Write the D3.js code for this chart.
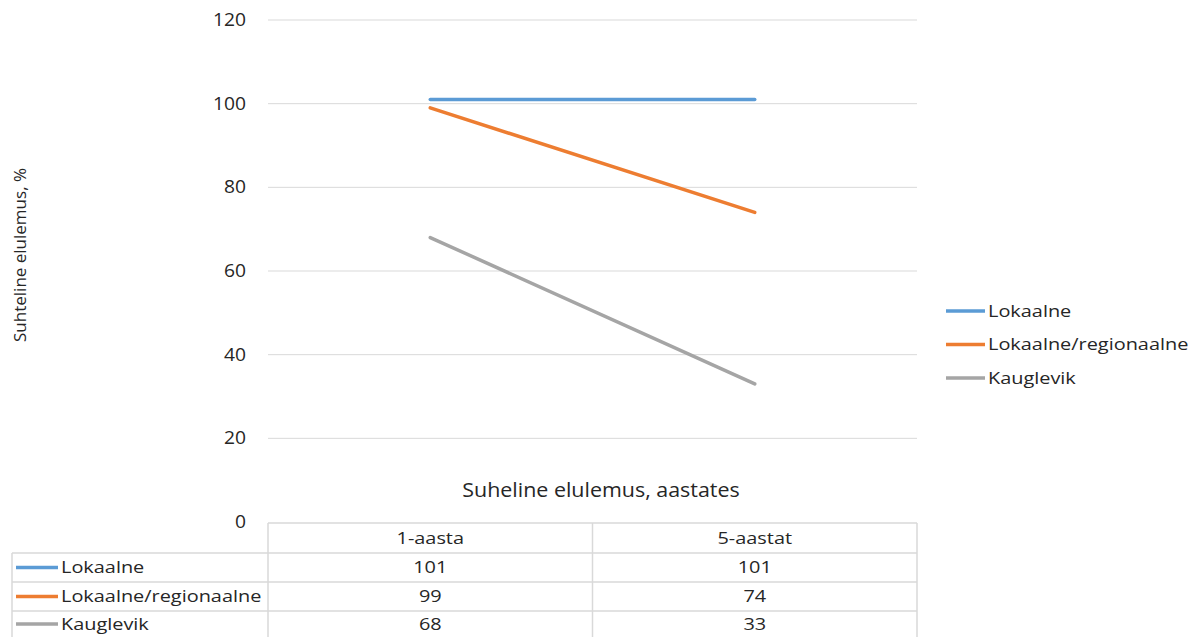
<!DOCTYPE html>
<html><head><meta charset="utf-8">
<script src="https://cdn.jsdelivr.net/npm/d3@7"></script>
<style>body{margin:0;background:#fff}svg{display:block}text{font-family:"Open Sans",sans-serif;fill:#262626}</style>
</head><body><svg id="c" width="1195" height="637"></svg>
<script>
const categories = ["1-aasta", "5-aastat"];
const seriesNames = ["Lokaalne", "Lokaalne/regionaalne", "Kauglevik"];
const lokaalne = [101, 101];
const lokReg = [99, 74];
const kauglevik = [68, 33];
const yTicks = [0, 20, 40, 60, 80, 100, 120];
const colors = ["#5b9bd5", "#ed7d31", "#a5a5a5"];
const series = [lokaalne, lokReg, kauglevik];

const svg = d3.select("#c");
const x = d3.scaleBand().domain(categories).range([268, 917]);
const y = d3.scaleLinear().domain([0, 120]).range([522, 20]);
const fs = 17;
const SX = 1.17;

// text helper with horizontal stretch
function txt(g, xx, yy, s, opts = {}) {
  const t = g.append("text")
    .attr("transform", `translate(${xx},${yy}) scale(${opts.sx || SX},1)`)
    .attr("dy", "0.35em")
    .attr("font-size", opts.fs || fs)
    .attr("text-anchor", opts.anchor || "start")
    .text(s);
  return t;
}

// gridlines
svg.append("g").selectAll("line").data(yTicks.filter(t => t > 0)).join("line")
  .attr("x1", 268).attr("x2", 917).attr("y1", d => y(d)).attr("y2", d => y(d))
  .attr("stroke", "#d9d9d9").attr("stroke-width", 1);

// y axis labels
const yAxis = d3.axisLeft(y).tickValues(yTicks).tickSize(0).tickPadding(0);
const ga = svg.append("g").attr("transform", "translate(246,0)").call(yAxis);
ga.select(".domain").remove();
ga.selectAll("text").attr("font-size", 17.5).attr("font-family", "Open Sans").attr("fill", "#262626")
  .attr("x", null).attr("transform", "scale(1.1,1)");
ga.selectAll(".tick").each(function () {
  const tr = d3.select(this).attr("transform");
  d3.select(this).attr("transform", tr);
});

// y title
svg.append("text").attr("transform", "translate(26,255) rotate(-90)").attr("text-anchor", "middle")
  .attr("font-size", fs).text("Suhteline elulemus, %");

// x title
txt(svg, 601, 490, "Suheline elulemus, aastates", { anchor: "middle", fs: 19.5, sx: 1.1 });

// lines
const line = d3.line().x((d, i) => x(categories[i]) + x.bandwidth() / 2).y(d => y(d));
series.forEach((s, i) => {
  svg.append("path").datum(s).attr("d", line).attr("fill", "none")
    .attr("stroke", colors[i]).attr("stroke-width", 3.5).attr("stroke-linecap", "round");
});

// legend
seriesNames.forEach((n, i) => {
  const ly = 311 + i * 33.5;
  svg.append("line").attr("x1", 946).attr("x2", 985).attr("y1", ly).attr("y2", ly)
    .attr("stroke", colors[i]).attr("stroke-width", 3.5);
  txt(svg, 988, ly, n);
});

// data table
const tStroke = "#d9d9d9";
const rowY = [523, 553, 582, 611, 640];
const tg = svg.append("g");
tg.append("line").attr("x1", 268).attr("x2", 917).attr("y1", rowY[0]).attr("y2", rowY[0]).attr("stroke", tStroke).attr("stroke-width", 1.5);
for (let r = 1; r < rowY.length; r++) {
  tg.append("line").attr("x1", 12).attr("x2", 917).attr("y1", rowY[r]).attr("y2", rowY[r]).attr("stroke", tStroke).attr("stroke-width", 1.5);
}
tg.append("line").attr("x1", 12).attr("x2", 12).attr("y1", rowY[1]).attr("y2", 637).attr("stroke", tStroke).attr("stroke-width", 1.5);
[268, 592.5, 917].forEach(xx => {
  tg.append("line").attr("x1", xx).attr("x2", xx).attr("y1", rowY[0]).attr("y2", 637).attr("stroke", tStroke).attr("stroke-width", 1.5);
});
categories.forEach(c => {
  txt(tg, x(c) + x.bandwidth() / 2, (rowY[0] + rowY[1]) / 2, c, { anchor: "middle" });
});
seriesNames.forEach((n, i) => {
  const cy = (rowY[i + 1] + rowY[i + 2]) / 2 - (i === 2 ? 1.5 : 0);
  tg.append("line").attr("x1", 16).attr("x2", 58).attr("y1", cy).attr("y2", cy).attr("stroke", colors[i]).attr("stroke-width", 3.5);
  txt(tg, 61, cy, n);
  series[i].forEach((v, j) => {
    txt(tg, x(categories[j]) + x.bandwidth() / 2, cy, v, { anchor: "middle" });
  });
});
</script></body></html>
